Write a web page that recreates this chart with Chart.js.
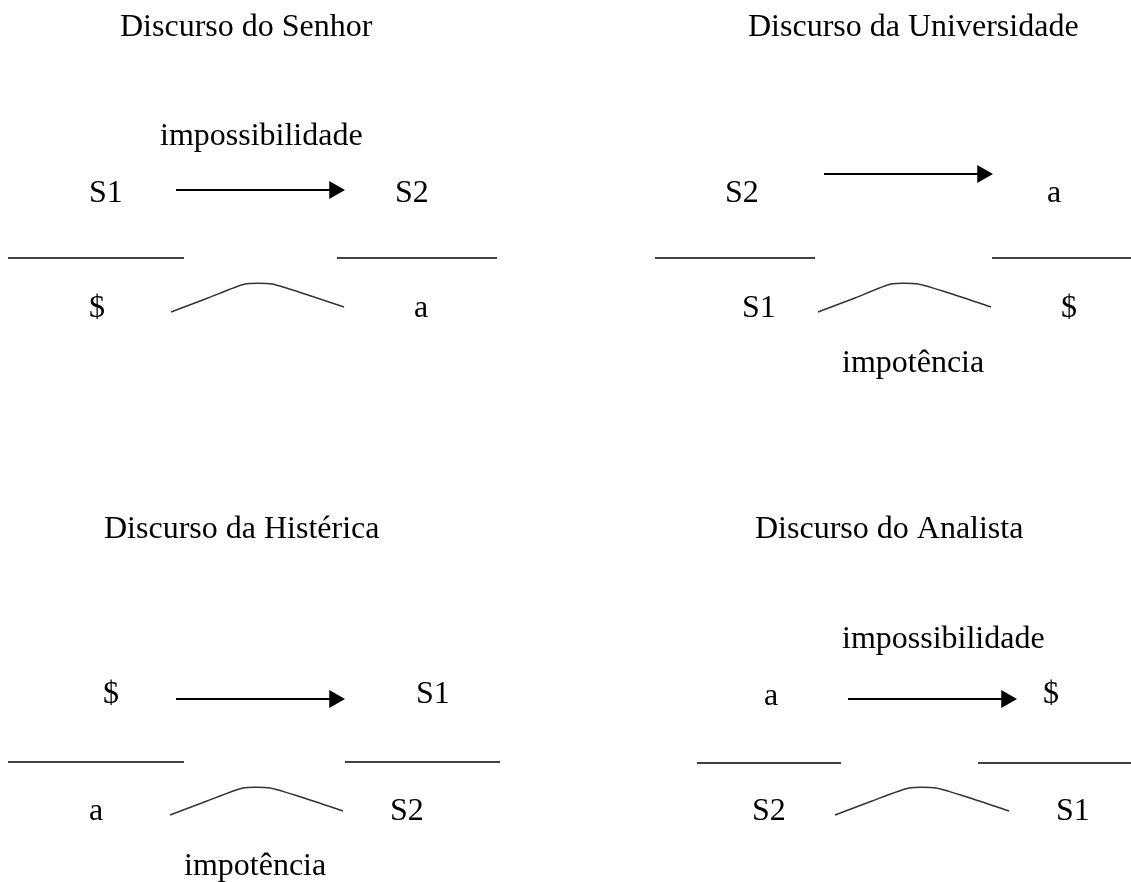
<!DOCTYPE html>
<html>
<head>
<meta charset="utf-8">
<title>Os quatro discursos</title>
<script src="https://cdn.jsdelivr.net/npm/chart.js@4.4.1/dist/chart.umd.min.js"></script>
<style>
	html, body { margin: 0; padding: 0; background: #fff; }
	#discursos { display: block; }
</style>
</head>
<body>
<canvas id="discursos" width="1131" height="882"></canvas>
<script>
// The four discourses: the terms in each place
let titles = ['Discurso do Senhor', 'Discurso da Universidade', 'Discurso da Histérica', 'Discurso do Analista'];
let agents = ['S1', 'S2', '$', 'a'];       // top left
let others = ['S2', 'a', 'S1', '$'];       // top right
let truths = ['$', 'S1', 'a', 'S2'];       // bottom left
let products = ['a', '$', 'S2', 'S1'];     // bottom right
let topNotes = ['impossibilidade', '', '', 'impossibilidade'];
let bottomNotes = ['', 'impotência', 'impotência', ''];

// Where each piece sits on the page (x left, y baseline), one entry per discourse
let titlePos = [[120, 36], [748, 36], [104, 538], [755, 538]];
let agentPos = [[89, 202], [725, 202], [103, 703], [764, 705]];
let otherPos = [[395, 202], [1047, 202], [416, 703], [1043, 703]];
let truthPos = [[89, 317], [742, 317], [89, 820], [752, 820]];
let productPos = [[414, 317], [1061, 317], [390, 820], [1056, 820]];
let topNotePos = [[160, 145], null, null, [842, 648]];
let bottomNotePos = [null, [842, 372], [184, 875], null];

// Arrow: [x start, x tip, y]
let arrows = [[176, 345, 190], [824, 993, 174], [176, 345, 699], [848, 1017, 699]];
// Bars under the top terms: [x1, x2, y] left and right
let barsLeft = [[8, 184, 258], [655, 815, 258], [8, 184, 762], [697, 841, 763]];
let barsRight = [[337, 497, 258], [992, 1131, 258], [345, 500, 762], [978, 1131, 763]];
// Arc between the bottom terms
let arcs = [
	[[171, 312], [208, 298], [245, 284], [272, 284], [308, 295], [344, 307]],
	[[818, 312], [855, 298], [891, 284], [918, 284], [955, 295], [991, 307]],
	[[170, 815], [207, 801], [243, 788], [270, 788], [307, 799], [343, 811]],
	[[835, 815], [872, 801], [909, 788], [936, 788], [973, 799], [1009, 811]]
];

let headSize = 10.5;

function lineSet(points, width, color){
	return {
		type: 'line',
		data: points.map(p => ({x: p[0], y: p[1]})),
		borderColor: color,
		borderWidth: width,
		pointRadius: 0,
		showLine: true,
		fill: false,
		tension: 0
	};
}

let datasets = [];
for(let i = 0; i < titles.length; i++){
	let a = arrows[i];
	datasets.push(lineSet([[a[0], a[2]], [a[1] - headSize, a[2]]], 2, '#000'));
	// arrow head as a rotated triangle point
	datasets.push({
		type: 'scatter',
		data: [{x: a[1] - headSize, y: a[2]}],
		pointStyle: 'triangle',
		rotation: 90,
		pointRadius: headSize,
		pointBackgroundColor: '#000',
		pointBorderWidth: 0
	});
	let bl = barsLeft[i], br = barsRight[i];
	datasets.push(lineSet([[bl[0], bl[2]], [bl[1], bl[2]]], 1.5, '#000'));
	datasets.push(lineSet([[br[0], br[2]], [br[1], br[2]]], 1.5, '#000'));
	let arc = lineSet(arcs[i], 1.5, '#333');
	arc.tension = 0.2;
	datasets.push(arc);
}

// Draws the terms and titles at their places through the scales
let textPlugin = {
	id: 'discourseText',
	afterDatasetsDraw(chart){
		let ctx = chart.ctx;
		let xs = chart.scales.x, ys = chart.scales.y;
		ctx.save();
		ctx.fillStyle = '#000';
		ctx.font = '32px "Liberation Serif", "Times New Roman", serif';
		ctx.textAlign = 'left';
		ctx.textBaseline = 'alphabetic';
		function put(text, pos){
			if(!text || !pos) return;
			ctx.fillText(text, xs.getPixelForValue(pos[0]), ys.getPixelForValue(pos[1]));
		}
		for(let i = 0; i < titles.length; i++){
			put(titles[i], titlePos[i]);
			put(agents[i], agentPos[i]);
			put(others[i], otherPos[i]);
			put(truths[i], truthPos[i]);
			put(products[i], productPos[i]);
			put(topNotes[i], topNotePos[i]);
			put(bottomNotes[i], bottomNotePos[i]);
		}
		ctx.restore();
	}
};

new Chart(document.getElementById('discursos').getContext('2d'), {
	type: 'scatter',
	data: { datasets: datasets },
	options: {
		responsive: false,
		animation: false,
		devicePixelRatio: 1,
		layout: { padding: 0, autoPadding: false },
		plugins: {
			legend: { display: false },
			tooltip: { enabled: false }
		},
		scales: {
			x: { type: 'linear', min: 0, max: 1131, display: false },
			y: { type: 'linear', min: 0, max: 882, reverse: true, display: false }
		}
	},
	plugins: [textPlugin]
});
</script>
</body>
</html>
